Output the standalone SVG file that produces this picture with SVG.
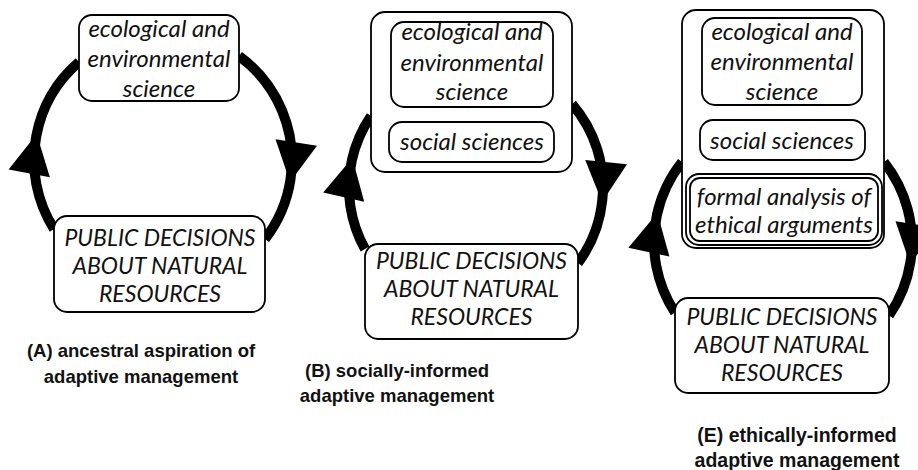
<svg xmlns="http://www.w3.org/2000/svg" width="918" height="470" viewBox="0 0 918 470">
<style>
.box{fill:#fff;stroke:#000;stroke-width:1.8}
.t{font-family:Lato,"Open Sans","Liberation Sans",sans-serif;font-style:italic;font-size:24px;text-anchor:middle;fill:#111}
.c{font-size:23px}
.lbl{font-family:"Liberation Sans",Arial,sans-serif;font-weight:bold;font-size:18.5px;text-anchor:middle;fill:#111}
.arc{fill:none;stroke:#000;stroke-width:10;marker-mid:url(#ah)}
</style>
<defs>
<marker id="ah" markerUnits="userSpaceOnUse" markerWidth="40" markerHeight="42" refX="38" refY="21" orient="auto" overflow="visible">
<path d="M0,0 L40,21 L0,42 Z" fill="#000"/>
</marker>
</defs>
<g id="connectors">
<path class="arc" d="M239,56 A129,129 0 0 1 290.4,180 A129,129 0 0 1 265,239"/>
<path class="arc" d="M54,229 A129,129 0 0 1 36.3,136 A129,129 0 0 1 79,62"/>
<path class="arc" d="M572,104 A127,127 0 0 1 602.3,200 A127,127 0 0 1 578,263"/>
<path class="arc" d="M365,249 A127,127 0 0 1 351.9,160 A127,127 0 0 1 371,116"/>
<path class="arc" d="M884,162 A129,129 0 0 1 910.4,262 A129,129 0 0 1 889,315.5"/>
<path class="arc" d="M675,312.5 A129,129 0 0 1 656.9,215 A129,129 0 0 1 682,162"/>
</g>
<g id="A-science">
<rect class="box" x="79" y="15" width="160" height="86" rx="13"/>
<text class="t" x="159" y="36.5">ecological and</text>
<text class="t" x="159" y="66.5">environmental</text>
<text class="t" x="159" y="96.5">science</text>
</g>
<g id="A-decisions">
<rect class="box" x="54" y="216" width="211" height="96" rx="13"/>
<text class="t c" x="160" y="246">PUBLIC DECISIONS</text>
<text class="t c" x="160" y="274">ABOUT NATURAL</text>
<text class="t c" x="160" y="302">RESOURCES</text>
</g>
<g id="A-label">
<text class="lbl" x="141" y="357">(A) ancestral aspiration of</text>
<text class="lbl" x="141" y="383">adaptive management</text>
</g>
<g id="B-knowledge">
<rect class="box" x="371" y="12" width="201" height="160" rx="14"/>
<rect class="box" x="391" y="22" width="162" height="85" rx="13"/>
<text class="t" x="472" y="40">ecological and</text>
<text class="t" x="472" y="71">environmental</text>
<text class="t" x="472" y="100">science</text>
<rect class="box" x="389" y="122" width="165" height="40" rx="13"/>
<text class="t" x="472" y="150">social sciences</text>
</g>
<g id="B-decisions">
<rect class="box" x="365" y="244" width="213" height="95" rx="13"/>
<text class="t c" x="471.5" y="268.5">PUBLIC DECISIONS</text>
<text class="t c" x="471.5" y="297">ABOUT NATURAL</text>
<text class="t c" x="471.5" y="325">RESOURCES</text>
</g>
<g id="B-label">
<text class="lbl" x="397" y="377">(B) socially-informed</text>
<text class="lbl" x="397" y="402">adaptive management</text>
</g>
<g id="E-knowledge">
<rect class="box" x="682" y="10" width="202" height="238" rx="14"/>
<rect class="box" x="702" y="18" width="160" height="87" rx="13"/>
<text class="t" x="782" y="39.5">ecological and</text>
<text class="t" x="782" y="70">environmental</text>
<text class="t" x="782" y="100">science</text>
<rect class="box" x="700" y="120" width="165" height="40" rx="13"/>
<text class="t" x="782" y="148.5">social sciences</text>
<rect class="box" x="686" y="174" width="196" height="71" rx="13"/>
<rect class="box" x="690" y="178" width="188" height="63" rx="10"/>
<text class="t" x="784" y="205">formal analysis of</text>
<text class="t" x="784" y="233">ethical arguments</text>
</g>
<g id="E-decisions">
<rect class="box" x="675" y="298" width="214" height="95" rx="13"/>
<text class="t c" x="782" y="325">PUBLIC DECISIONS</text>
<text class="t c" x="782" y="353">ABOUT NATURAL</text>
<text class="t c" x="782" y="381">RESOURCES</text>
</g>
<g id="E-label">
<text class="lbl" x="797" y="442" style="font-size:19.5px">(E) ethically-informed</text>
<text class="lbl" x="797" y="467" style="font-size:19.5px">adaptive management</text>
</g>
</svg>
